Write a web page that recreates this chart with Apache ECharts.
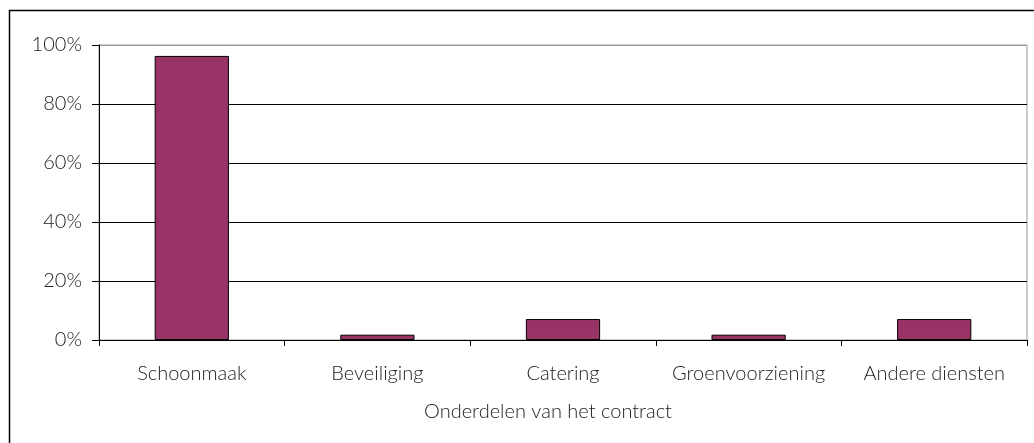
<!DOCTYPE html>
<html>
<head>
<meta charset="utf-8">
<script src="https://cdn.jsdelivr.net/npm/echarts@6/dist/echarts.min.js"></script>
<style>
  html, body { margin: 0; padding: 0; background: #fff; }
  #chart { width: 1034px; height: 443px; }
</style>
</head>
<body>
<div id="chart"></div>
<script>
const categories = ['Schoonmaak', 'Beveiliging', 'Catering', 'Groenvoorziening', 'Andere diensten']
const shares = [96.3, 1.8, 7.1, 1.8, 7.1]
const axisTitle = 'Onderdelen van het contract'

const font = 'Lato, "Open Sans", sans-serif'
const textColor = '#222'
const fontSize = 20
const fontWeight = 300

const chart = echarts.init(document.getElementById('chart'))

chart.setOption({
  animation: false,
  graphic: [
    // outer chart-area border (only top and left visible in the crop)
    {
      type: 'rect',
      shape: { x: 9.5, y: 10.5, width: 1200, height: 600 },
      style: { fill: 'none', stroke: '#000', lineWidth: 1.5 },
      z: 100,
    },
  ],
  grid: {
    left: 99, right: 7, top: 45, bottom: 103,
    show: true, borderColor: '#999', borderWidth: 1,
  },
  xAxis: {
    type: 'category',
    data: categories,
    name: axisTitle,
    nameLocation: 'middle',
    nameGap: 62,
    nameTextStyle: { fontFamily: font, fontSize, fontWeight, color: textColor, padding: [0, 30, 0, 0] },
    axisLine: { lineStyle: { color: '#000', width: 1 } },
    axisTick: { show: true, length: 6, inside: false, lineStyle: { color: '#000' } },
    axisLabel: { fontFamily: font, fontSize, fontWeight, color: textColor, margin: 24, interval: 0 },
  },
  yAxis: {
    type: 'value',
    min: 0, max: 100, interval: 20,
    axisLine: { show: true, lineStyle: { color: '#000', width: 1 } },
    axisTick: { show: true, length: 7, lineStyle: { color: '#000' } },
    axisLabel: {
      fontFamily: font, fontSize, fontWeight, color: textColor, margin: 17,
      formatter: (v) => v + '%',
    },
    splitLine: {
      show: true,
      lineStyle: { color: ['#000', '#000', '#000', '#000', '#000', '#999'], width: 1 },
    },
  },
  series: [
    {
      type: 'bar',
      data: shares,
      barWidth: '40%',
      itemStyle: { color: '#993366', borderColor: '#000', borderWidth: 1 },
    },
  ],
})
</script>
</body>
</html>
